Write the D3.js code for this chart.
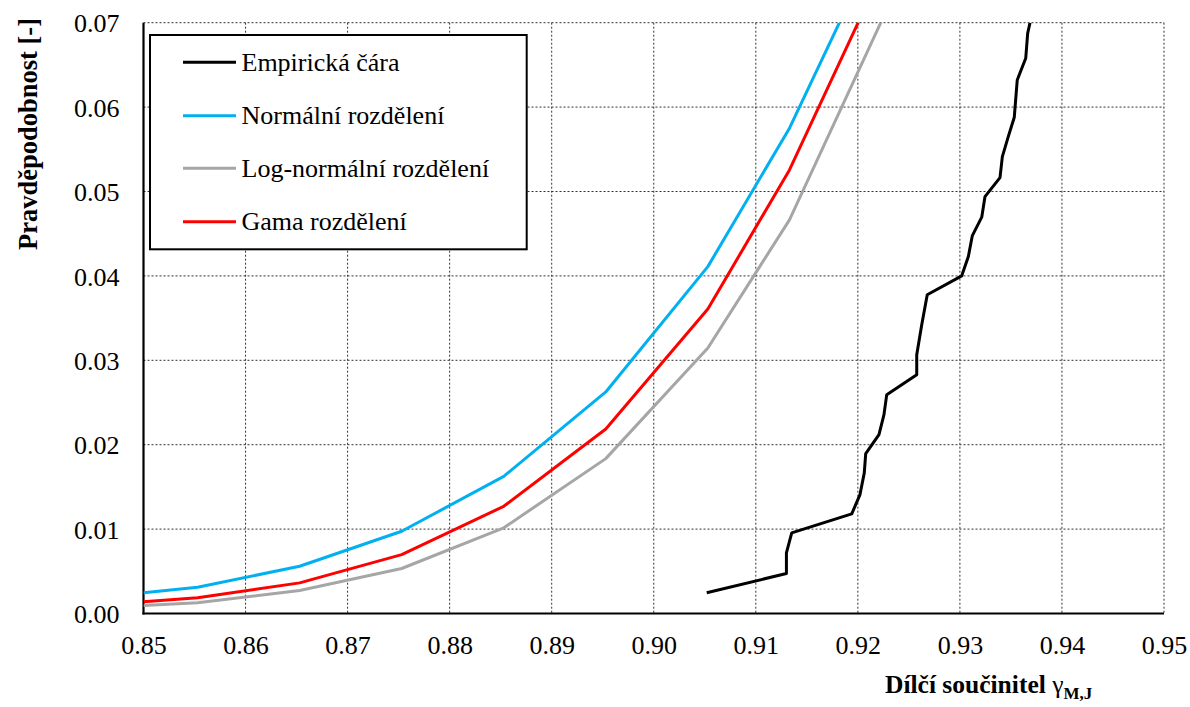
<!DOCTYPE html>
<html>
<head>
<meta charset="utf-8">
<script src="https://cdn.jsdelivr.net/npm/d3@7"></script>
<style>
html,body{margin:0;padding:0;background:#fff;}
svg{display:block;}
svg text{font-family:"Liberation Serif","Tinos","Times New Roman","DejaVu Serif",serif;}
</style>
</head>
<body>
<svg id="chart" width="1190" height="707"></svg>
<script>
// ---- data ----
const xTicks = [0.85,0.86,0.87,0.88,0.89,0.90,0.91,0.92,0.93,0.94,0.95];
const yTicks = [0.00,0.01,0.02,0.03,0.04,0.05,0.06,0.07];

const distX      = [0.85, 0.8553, 0.8653, 0.8753, 0.8853, 0.8953, 0.9053, 0.9133, 0.925];
const normalY    = [0.00245, 0.00311, 0.0056, 0.00974, 0.01625, 0.02625, 0.0411, 0.0575, 0.0874];
const gammaY     = [0.00139, 0.00186, 0.00363, 0.00698, 0.0127, 0.02186, 0.03607, 0.05256, 0.0829];
const lognormalY = [0.00095, 0.00127, 0.00272, 0.00533, 0.01015, 0.01835, 0.03145, 0.04664, 0.0772];

const empX = [0.90519, 0.9130, 0.9130, 0.91352, 0.91940, 0.92021, 0.92063, 0.92077, 0.92207, 0.92256,
              0.92283, 0.92577, 0.92577, 0.92626, 0.92680, 0.93018, 0.93083, 0.93122, 0.93214, 0.93246,
              0.93393, 0.93416, 0.93474, 0.93533, 0.93562, 0.93645, 0.93664, 0.93687];
const empY = [0.00245, 0.00474, 0.00718, 0.00955, 0.0118, 0.01409, 0.01666, 0.01894, 0.02119, 0.02356,
              0.02593, 0.02829, 0.03066, 0.03421, 0.03776, 0.04001, 0.0423, 0.04478, 0.04696, 0.0494,
              0.05165, 0.05414, 0.0565, 0.0588, 0.06322, 0.06578, 0.06874, 0.07];

const seriesNames = ["Empirická čára","Normální rozdělení","Log-normální rozdělení","Gama rozdělení"];
const seriesColors = ["#000000","#00B0F0","#A6A6A6","#FF0000"];

// ---- layout ----
const FONT = '"Liberation Serif","Tinos","Times New Roman","DejaVu Serif",serif';
const svg = d3.select("#chart");
const L = 143.5, R = 1164, T = 22.7, B = 613.5;
const x = d3.scaleLinear().domain([0.85,0.95]).range([L,R]);
const y = d3.scaleLinear().domain([0,0.07]).range([B,T]);

svg.append("defs").append("clipPath").attr("id","plotclip")
  .append("rect").attr("x",L).attr("y",T).attr("width",R-L).attr("height",B-T);

// grid
const grid = svg.append("g");
grid.selectAll("line.vx").data(xTicks.slice(1)).enter().append("line")
  .attr("x1",d=>x(d)).attr("x2",d=>x(d)).attr("y1",T).attr("y2",B)
  .attr("stroke","#333").attr("stroke-width",1).attr("stroke-dasharray","2,2");
grid.selectAll("line.hy").data(yTicks.slice(1)).enter().append("line")
  .attr("x1",L).attr("x2",R).attr("y1",d=>y(d)).attr("y2",d=>y(d))
  .attr("stroke","#333").attr("stroke-width",1).attr("stroke-dasharray","2,2");

// axes (d3 axes for labels)
const xAxis = d3.axisBottom(x).tickValues(xTicks).tickFormat(d3.format(".2f")).tickSize(0).tickPadding(0);
const gx = svg.append("g").attr("transform",`translate(0,${B})`).call(xAxis)
  .attr("font-family",FONT).attr("font-size",26);
gx.select(".domain").remove();
gx.selectAll("text").style("font-family",FONT).attr("font-size",26).attr("fill","#000")
  .attr("dy",null).attr("y",40);

const yAxis = d3.axisLeft(y).tickValues(yTicks).tickFormat(d3.format(".2f")).tickSize(0).tickPadding(0);
const gy = svg.append("g").attr("transform",`translate(${L},0)`).call(yAxis)
  .attr("font-family",FONT).attr("font-size",26);
gy.select(".domain").remove();
gy.selectAll("text").style("font-family",FONT).attr("font-size",26).attr("fill","#000")
  .attr("x",-24).attr("dy","0.35em");

svg.append("line").attr("x1",L).attr("x2",L).attr("y1",T).attr("y2",B+1)
  .attr("stroke","#000").attr("stroke-width",2.2);
svg.append("line").attr("x1",L-1).attr("x2",R).attr("y1",B).attr("y2",B)
  .attr("stroke","#000").attr("stroke-width",2.2);

// lines
const line = d3.line().x(d=>x(d[0])).y(d=>y(d[1]));
const plot = svg.append("g").attr("clip-path","url(#plotclip)");
const series = [
  {pts: d3.zip(distX, lognormalY), color: seriesColors[2]},
  {pts: d3.zip(distX, gammaY), color: seriesColors[3]},
  {pts: d3.zip(distX, normalY), color: seriesColors[1]},
  {pts: d3.zip(empX, empY), color: seriesColors[0]}
];
series.forEach(s=>{
  plot.append("path").attr("d",line(s.pts)).attr("fill","none")
    .attr("stroke",s.color).attr("stroke-width",3).attr("stroke-linejoin","round");
});

// legend
const lg = svg.append("g");
lg.append("rect").attr("x",150).attr("y",35).attr("width",376.7).attr("height",214.3)
  .attr("fill","#fff").attr("stroke","#000").attr("stroke-width",2);
const legY = [62.3,115.7,168.3,221.7];
seriesNames.forEach((n,i)=>{
  lg.append("line").attr("x1",183).attr("x2",236).attr("y1",legY[i]).attr("y2",legY[i])
    .attr("stroke",seriesColors[i]).attr("stroke-width",3);
  lg.append("text").attr("x",241.5).attr("y",legY[i]).attr("dy","0.33em")
    .style("font-family",FONT).attr("font-size",26).text(n);
});

// axis titles
svg.append("text").attr("transform","translate(37,134) rotate(-90)")
  .attr("text-anchor","middle").attr("font-size",26.5).attr("font-weight","bold")
  .style("font-family",FONT).text("Pravděpodobnost [-]");

const xt = svg.append("text").attr("x",885).attr("y",693).attr("font-size",25.5).attr("font-weight","bold")
  .style("font-family",FONT);
xt.append("tspan").text("Dílčí součinitel ");
xt.append("tspan").attr("font-weight","normal").text("γ");
xt.append("tspan").attr("font-size",17).attr("dy",6).text("M,J");
</script>
</body>
</html>
